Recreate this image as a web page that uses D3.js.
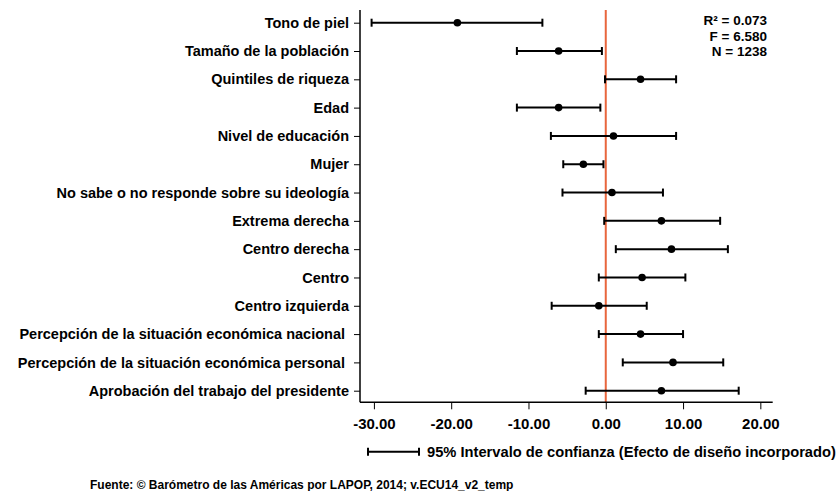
<!DOCTYPE html>
<html>
<head>
<meta charset="utf-8">
<script src="https://cdn.jsdelivr.net/npm/d3@7"></script>
<style>
  html, body { margin: 0; padding: 0; background: #fff; }
  svg { display: block; }
  text { font-family: "Liberation Sans", Arial, Helvetica, sans-serif; font-weight: bold; fill: #000; }
</style>
</head>
<body>
<svg id="chart" width="840" height="491"></svg>
<script>
const categories = [
  "Tono de piel",
  "Tamaño de la población",
  "Quintiles de riqueza",
  "Edad",
  "Nivel de educación",
  "Mujer",
  "No sabe o no responde sobre su ideología",
  "Extrema derecha",
  "Centro derecha",
  "Centro",
  "Centro izquierda",
  "Percepción de la situación económica nacional ",
  "Percepción de la situación económica personal ",
  "Aprobación del trabajo del presidente"
];
const estimates = [-19.2, -6.1, 4.5, -6.1, 1.0, -2.9, 0.8, 7.2, 8.5, 4.7, -0.9, 4.5, 8.7, 7.2];
const lower     = [-30.3, -11.5, -0.1, -11.5, -7.1, -5.5, -5.6, -0.2, 1.3, -0.9, -7.0, -0.9, 2.2, -2.6];
const upper     = [-8.2, -0.5, 9.1, -0.7, 9.1, -0.3, 7.4, 14.8, 15.8, 10.3, 5.3, 10.0, 15.2, 17.2];
const xTicks = [-30, -20, -10, 0, 10, 20];
const stats = ["R² = 0.073", "F = 6.580", "N = 1238"];
const legendLabel = "95% Intervalo de confianza (Efecto de diseño incorporado)";
const sourceNote = "Fuente: © Barómetro de las Américas por LAPOP, 2014; v.ECU14_v2_temp";

const data = categories.map((c, i) => ({ c, est: estimates[i], lo: lower[i], hi: upper[i] }));

const svg = d3.select("#chart");
const plot = { left: 360, right: 772.7, top: 10, bottom: 402.3 };

const x = d3.scaleLinear().domain([-31.8, 21.6]).range([plot.left, plot.right]);
const y = d3.scalePoint().domain(categories).range([22.7, 390.7]);

// Zero reference line
svg.append("line")
  .attr("x1", x(0)).attr("x2", x(0))
  .attr("y1", plot.top).attr("y2", plot.bottom)
  .attr("stroke", "#e8663d").attr("stroke-width", 2);

// Left axis
const yAxis = svg.append("g")
  .attr("transform", `translate(${plot.left},0)`)
  .call(d3.axisLeft(y).tickSize(6).tickPadding(5));
yAxis.select(".domain").remove();
yAxis.selectAll("line").attr("stroke", "#000").attr("stroke-width", 1);
yAxis.selectAll("text")
  .style("font-size", "14.5px")
  .style("font-family", "Liberation Sans, Arial, sans-serif")
  .style("font-weight", "bold")
  .style("white-space", "pre");
svg.append("line")
  .attr("x1", plot.left).attr("x2", plot.left)
  .attr("y1", plot.top).attr("y2", plot.bottom)
  .attr("stroke", "#000").attr("stroke-width", 1.5);

// Bottom axis
const fmt = d3.format(".2f");
const xAxis = svg.append("g")
  .attr("transform", `translate(0,${plot.bottom})`)
  .call(d3.axisBottom(x).tickValues(xTicks).tickFormat(d => fmt(d).replace("\u2212", "-")).tickSize(7).tickPadding(9));
xAxis.select(".domain").remove();
xAxis.selectAll("line").attr("stroke", "#000").attr("stroke-width", 1);
xAxis.selectAll("text")
  .style("font-size", "15px")
  .style("font-family", "Liberation Sans, Arial, sans-serif")
  .style("font-weight", "bold");
svg.append("line")
  .attr("x1", plot.left).attr("x2", plot.right)
  .attr("y1", plot.bottom).attr("y2", plot.bottom)
  .attr("stroke", "#000").attr("stroke-width", 1.5);

// Error bars
const cap = 4;
const g = svg.append("g");
const rows = g.selectAll("g.row").data(data).join("g").attr("class", "row");
rows.append("line")
  .attr("x1", d => x(d.lo)).attr("x2", d => x(d.hi))
  .attr("y1", d => y(d.c)).attr("y2", d => y(d.c))
  .attr("stroke", "#000").attr("stroke-width", 2);
rows.append("line")
  .attr("x1", d => x(d.lo)).attr("x2", d => x(d.lo))
  .attr("y1", d => y(d.c) - cap).attr("y2", d => y(d.c) + cap)
  .attr("stroke", "#000").attr("stroke-width", 2);
rows.append("line")
  .attr("x1", d => x(d.hi)).attr("x2", d => x(d.hi))
  .attr("y1", d => y(d.c) - cap).attr("y2", d => y(d.c) + cap)
  .attr("stroke", "#000").attr("stroke-width", 2);
rows.append("circle")
  .attr("cx", d => x(d.est)).attr("cy", d => y(d.c))
  .attr("r", 3.8).attr("fill", "#000");

// Stats
svg.append("g").selectAll("text").data(stats).join("text")
  .attr("x", 767).attr("y", (d, i) => 25 + i * 15.6)
  .attr("text-anchor", "end")
  .style("font-size", "13.5px")
  .text(d => d);

// Legend
const ly = 451.7;
const legend = svg.append("g");
legend.append("line").attr("x1", 368).attr("x2", 419).attr("y1", ly).attr("y2", ly)
  .attr("stroke", "#000").attr("stroke-width", 2);
legend.append("line").attr("x1", 368).attr("x2", 368).attr("y1", ly - cap).attr("y2", ly + cap)
  .attr("stroke", "#000").attr("stroke-width", 2);
legend.append("line").attr("x1", 419).attr("x2", 419).attr("y1", ly - cap).attr("y2", ly + cap)
  .attr("stroke", "#000").attr("stroke-width", 2);
legend.append("text").attr("x", 427).attr("y", ly + 5)
  .style("font-size", "14.7px").text(legendLabel);

// Source note
svg.append("text").attr("x", 90).attr("y", 489)
  .style("font-size", "12px").text(sourceNote);
</script>
</body>
</html>
